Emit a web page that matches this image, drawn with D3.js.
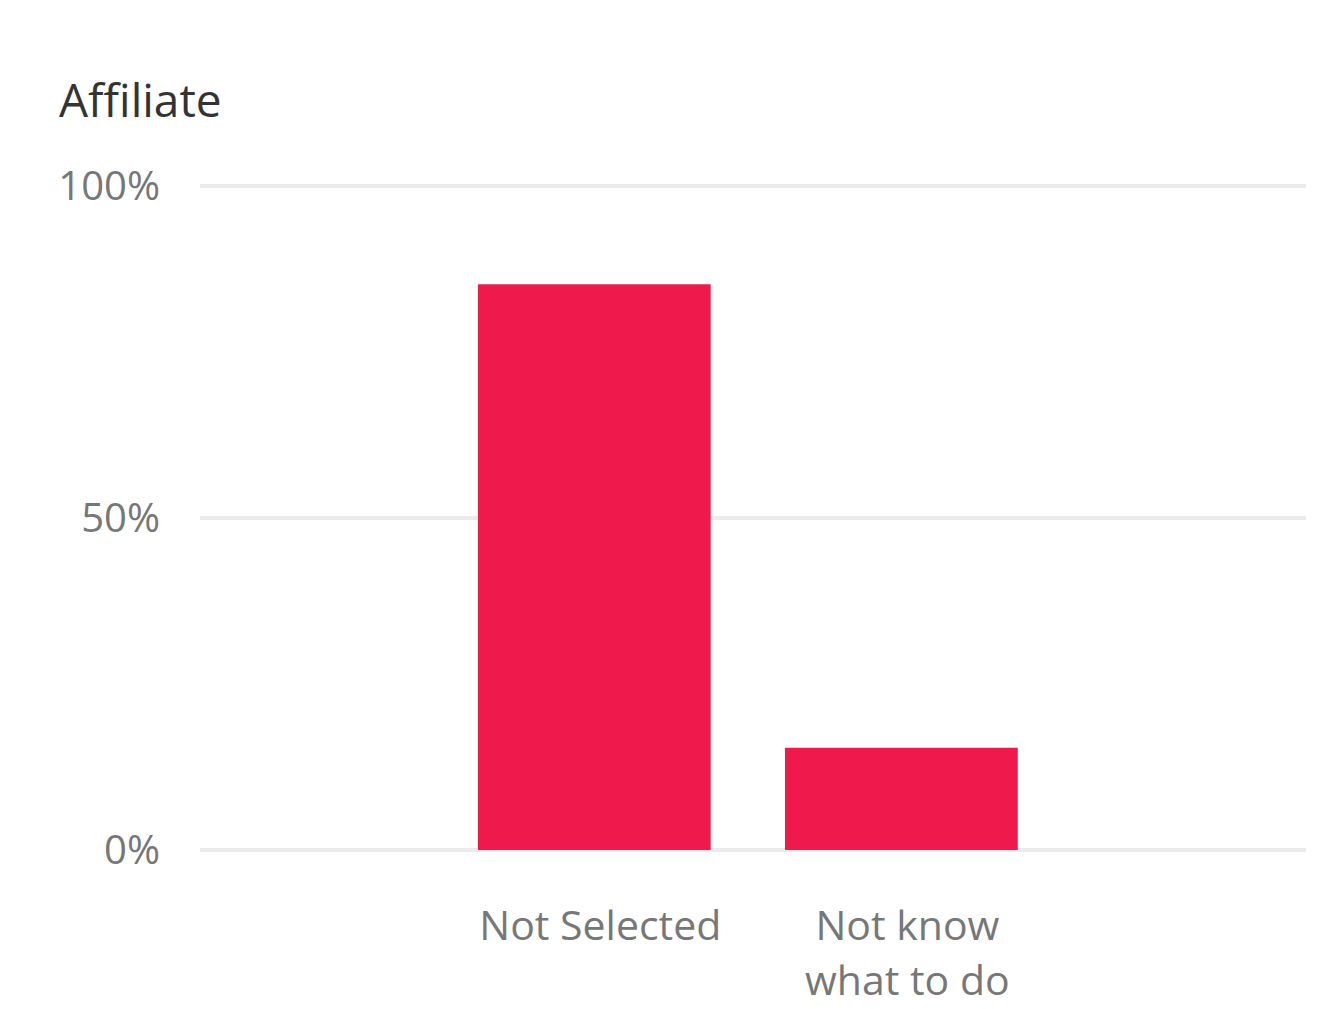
<!DOCTYPE html>
<html>
<head>
<meta charset="utf-8">
<script src="https://cdn.jsdelivr.net/npm/d3@7"></script>
<style>
  html, body { margin: 0; padding: 0; background: #ffffff; }
  svg { display: block; font-family: "Open Sans", "Noto Sans", sans-serif; }
</style>
</head>
<body>
<svg id="chart" width="1317" height="1009"></svg>
<script>
// Share of responses per category (percent)
const categories = ["Not Selected", "Not know what to do"];
const categoryLines = [["Not Selected"], ["Not know", "what to do"]];
const values = [85.2, 15.4];
const tickValues = [0, 50, 100];
const tickLabels = ["0%", "50%", "100%"];
const title = "Affiliate";

const svg = d3.select("#chart");

const gridLeft = 200, gridRight = 1306;
const y = d3.scaleLinear().domain([0, 100]).range([850, 186]);
const x = d3.scaleBand()
  .domain(categories)
  .range([440.8, 1054.9])
  .paddingInner(0.242)
  .paddingOuter(0.121);

// title
svg.append("text")
  .attr("x", 59)
  .attr("y", 117)
  .attr("font-size", 46)
  .attr("fill", "#333333")
  .text(title);

// horizontal gridlines
svg.append("g")
  .selectAll("line")
  .data(tickValues)
  .join("line")
  .attr("x1", gridLeft)
  .attr("x2", gridRight)
  .attr("y1", d => y(d))
  .attr("y2", d => y(d))
  .attr("stroke", "#ebebeb")
  .attr("stroke-width", 4);

// y tick labels
svg.append("g")
  .selectAll("text")
  .data(tickValues)
  .join("text")
  .attr("x", 160)
  .attr("y", d => y(d))
  .attr("dy", "0.36em")
  .attr("text-anchor", "end")
  .attr("font-size", 40)
  .attr("fill", "#777777")
  .text((d, i) => tickLabels[i]);

// bars
svg.append("g")
  .selectAll("rect")
  .data(values)
  .join("rect")
  .attr("x", (d, i) => x(categories[i]))
  .attr("width", x.bandwidth())
  .attr("y", d => y(d))
  .attr("height", d => y(0) - y(d))
  .attr("fill", "#ef194b");

// category labels
const labels = svg.append("g")
  .selectAll("text")
  .data(categories)
  .join("text")
  .attr("x", d => x(d) + x.bandwidth() / 2 + 6)
  .attr("y", 940)
  .attr("text-anchor", "middle")
  .attr("font-size", 41)
  .attr("fill", "#777777");

labels.selectAll("tspan")
  .data((d, i) => categoryLines[i])
  .join("tspan")
  .attr("x", function () { return d3.select(this.parentNode).attr("x"); })
  .attr("dy", (d, i) => i === 0 ? 0 : 55)
  .text(d => d);
</script>
</body>
</html>
